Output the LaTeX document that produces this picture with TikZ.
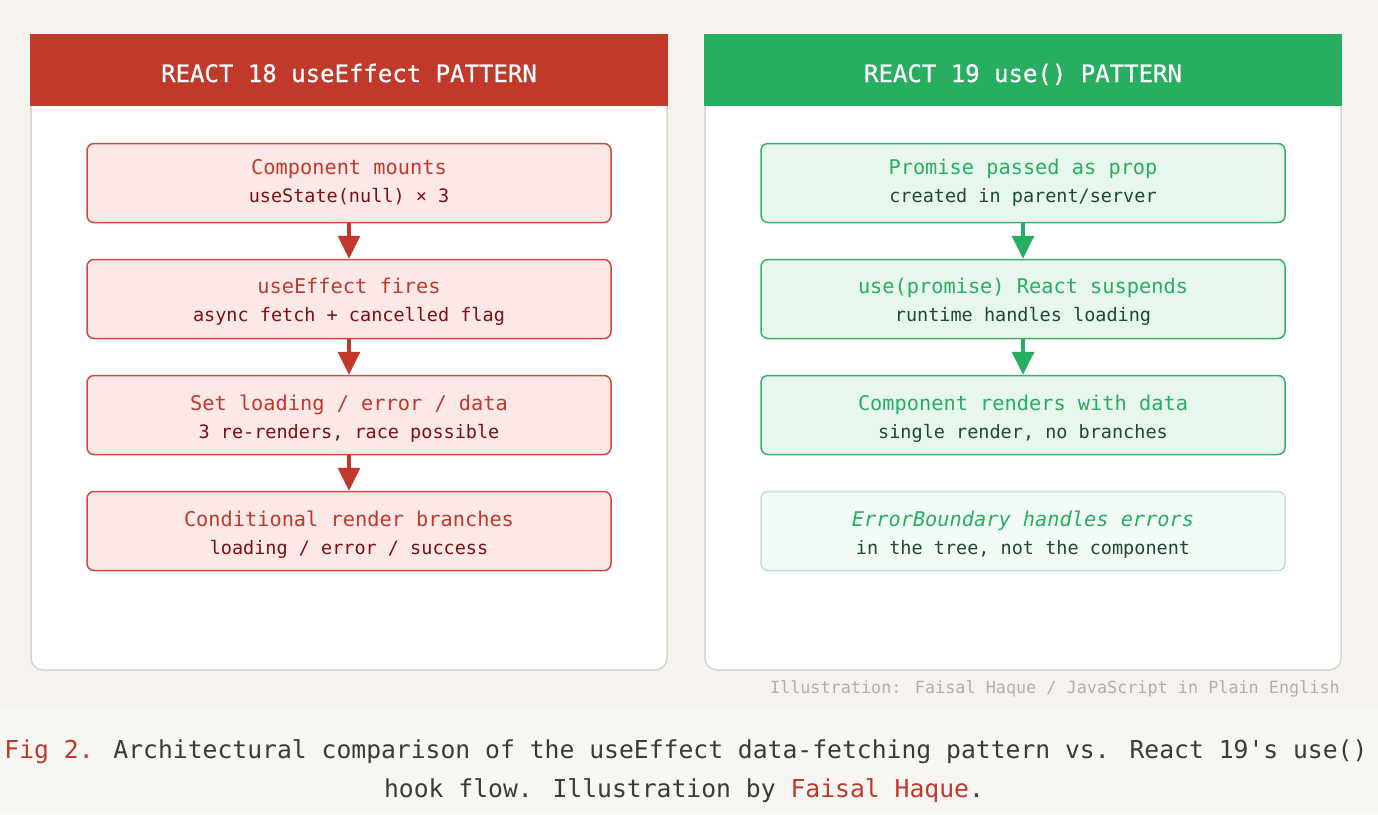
\documentclass[tikz,border=0pt]{standalone}
\usepackage{fontspec}
\newfontfamily\mono{DejaVu Sans Mono}
\newfontfamily\monohdr[FakeBold=0.6]{DejaVu Sans Mono}
\usetikzlibrary{arrows.meta}
\definecolor{bgtop}{HTML}{F6F3EE}
\definecolor{bgbot}{HTML}{F8F6F2}
\definecolor{panelline}{HTML}{D8D4CC}
\definecolor{redh}{HTML}{C0392B}
\definecolor{greenh}{HTML}{27AE60}
\definecolor{redfill}{HTML}{FDE8E8}
\definecolor{redline}{HTML}{CC4A3E}
\definecolor{redsub}{HTML}{7A1010}
\definecolor{greenfill}{HTML}{E8F7EE}
\definecolor{greenline}{HTML}{38B06A}
\definecolor{greensub}{HTML}{1D4A30}
\definecolor{palefill}{HTML}{F3FBF6}
\definecolor{paleline}{HTML}{BFE3CC}
\definecolor{credit}{HTML}{B3AFA8}
\definecolor{captext}{HTML}{3A3A3A}
\tikzset{
  panel/.style={fill=white, draw=panelline, line width=1.5pt, rounded corners=12pt},
  hdrtext/.style={anchor=base, text=white, font=\monohdr\fontsize{24}{28}\selectfont, inner sep=0pt},
  flowbox/.style={minimum width=524pt, minimum height=79pt, inner sep=0pt, rounded corners=7pt, line width=1.5pt},
  lbox/.style={flowbox, fill=redfill, draw=redline},
  gbox/.style={flowbox, fill=greenfill, draw=greenline},
  pbox/.style={flowbox, fill=palefill, draw=paleline},
  ttl/.style={anchor=base, inner sep=0pt, font=\mono\fontsize{20.3}{24}\selectfont},
  sub/.style={anchor=base, inner sep=0pt, font=\mono\fontsize{18.5}{22}\selectfont},
  larrow/.style={draw=redh, line width=3.5pt, -{Triangle[length=23pt,width=22pt]}},
  garrow/.style={draw=greenh, line width=3.5pt, -{Triangle[length=23pt,width=22pt]}},
  captxt/.style={anchor=base, inner sep=0pt, text=captext, font=\mono\fontsize{24.7}{30}\selectfont},
}
\begin{document}
\begin{tikzpicture}[x=1pt,y=-1pt]
\useasboundingbox (0,0) rectangle (1378,814);
\fill[bgtop] (0,0) rectangle (1378,708);
\fill[bgbot] (0,708) rectangle (1378,814);

% panels
\path[panel] (31,35) rectangle (667,670);
\fill[redh] (30.25,34.25) rectangle (667.75,106);
\path[panel] (705,35) rectangle (1341,670);
\fill[greenh] (704.25,34.25) rectangle (1341.75,106);

\node[hdrtext] (lh) at (349,82) {REACT 18 useEffect PATTERN};
\node[hdrtext] (rh) at (1023,82) {REACT 19 use() PATTERN};

% left boxes
\node[lbox] (l1) at (349,183) {};
\node[lbox] (l2) at (349,299) {};
\node[lbox] (l3) at (349,415) {};
\node[lbox] (l4) at (349,531) {};
\node[ttl, text=redh] (l1t) at (349,174) {Component mounts};
\node[sub, text=redsub] (l1s) at (349,202) {useState(null) × 3};
\node[ttl, text=redh] (l2t) at (349,293.5) {useEffect fires};
\node[sub, text=redsub] (l2s) at (349,321.5) {async fetch + cancelled flag};
\node[ttl, text=redh] (l3t) at (349,410) {Set loading / error / data};
\node[sub, text=redsub] (l3s) at (349,438) {3 re-renders, race possible};
\node[ttl, text=redh] (l4t) at (349,526) {Conditional render branches};
\node[sub, text=redsub] (l4s) at (349,554) {loading / error / success};
\draw[larrow] (l1.south) -- (l2.north);
\draw[larrow] (l2.south) -- (l3.north);
\draw[larrow] (l3.south) -- (l4.north);

% right boxes
\node[gbox] (r1) at (1023,183) {};
\node[gbox] (r2) at (1023,299) {};
\node[gbox] (r3) at (1023,415) {};
\node[pbox] (r4) at (1023,531) {};
\node[ttl, text=greenh] (r1t) at (1023,174) {Promise passed as prop};
\node[sub, text=greensub] (r1s) at (1023,202) {created in parent/server};
\node[ttl, text=greenh] (r2t) at (1023,293.5) {use(promise) React suspends};
\node[sub, text=greensub] (r2s) at (1023,321.5) {runtime handles loading};
\node[ttl, text=greenh] (r3t) at (1023,410) {Component renders with data};
\node[sub, text=greensub] (r3s) at (1023,438) {single render, no branches};
\node[ttl, text=greenh, font=\mono\itshape\fontsize{20.3}{24}\selectfont] (r4t) at (1023,526) {ErrorBoundary handles errors};
\node[sub, text=greensub] (r4s) at (1023,554) {in the tree, not the component};
\draw[garrow] (r1.south) -- (r2.north);
\draw[garrow] (r2.south) -- (r3.north);

% credit
\node[anchor=base east, inner sep=0pt, text=credit, font=\mono\fontsize{16.8}{20}\selectfont] (cred) at (1340,693) {Illustration: Faisal Haque / JavaScript in Plain English};

% caption
\node[captxt] (cap1) at (686,758) {\textcolor{redh}{Fig 2.} Architectural comparison of the useEffect data-fetching pattern vs. React 19's use()};
\node[captxt] (cap2) at (684,797) {hook flow. Illustration by \textcolor{redh}{Faisal Haque}.};
\end{tikzpicture}
\end{document}
